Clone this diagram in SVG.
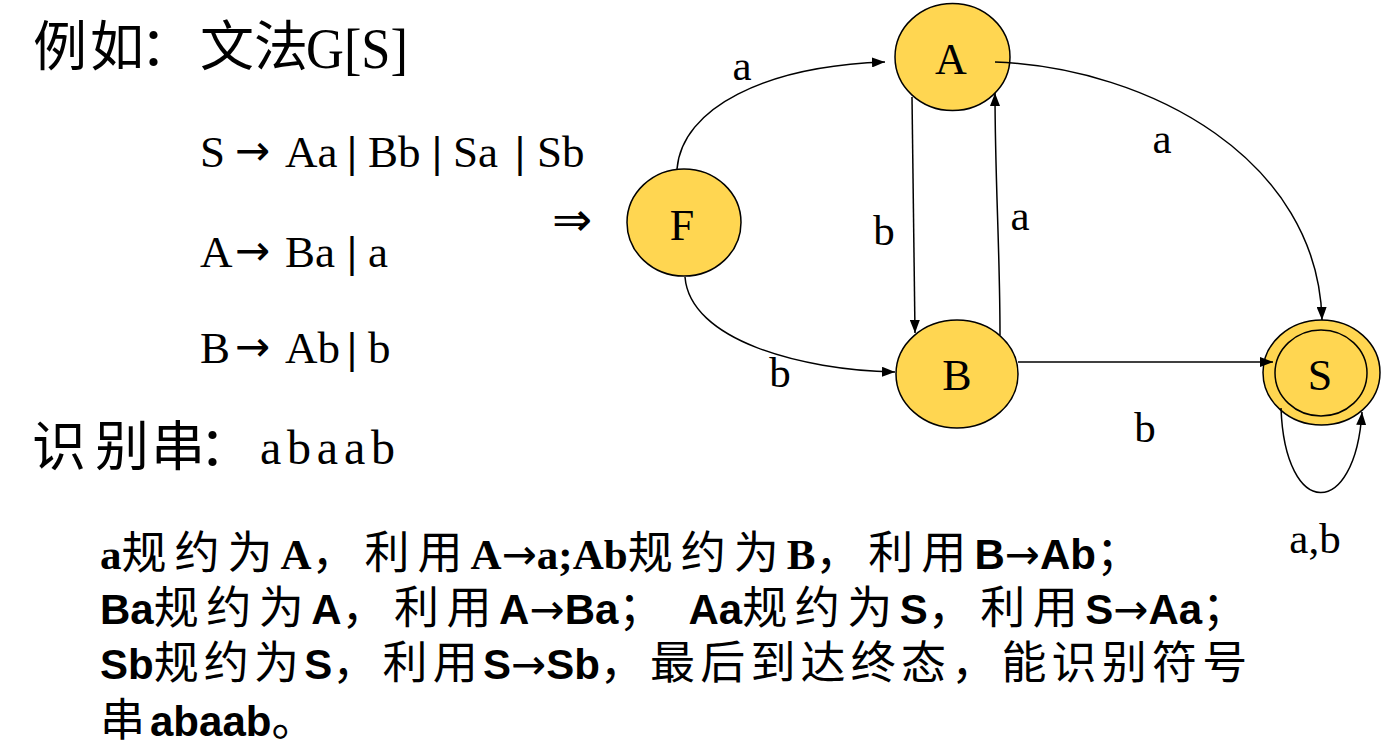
<svg xmlns="http://www.w3.org/2000/svg" width="1395" height="750" viewBox="0 0 1395 750">
  <defs>
    <marker id="arr" markerWidth="13" markerHeight="10" refX="13" refY="5" orient="auto" markerUnits="userSpaceOnUse">
      <path d="M0,0 L13,5 L0,10 z" fill="#000"/>
    </marker>
    <style>
      .cjk { font-family: "Noto Sans CJK SC", sans-serif; fill: #000; }
      .ser { font-family: "Liberation Serif", "DejaVu Serif", serif; fill: #000; }
      .arw { font-family: "DejaVu Sans", sans-serif; font-size: 42px; }
      .bar { font-weight: bold; }
      .node ellipse { fill: #FFD651; stroke: #000; stroke-width: 1.5; }
      .nlabel { font-family: "Liberation Serif", serif; font-size: 44px; text-anchor: middle; fill: #000; }
      .elabel { font-family: "Liberation Serif", serif; font-size: 43px; text-anchor: middle; fill: #000; }
      .edge { fill: none; stroke: #000; stroke-width: 1.5; marker-end: url(#arr); }
      .bt { font-family: "Noto Sans CJK SC", sans-serif; font-size: 45px; fill: #000; }
      .bs { font-family: "Liberation Sans", Arial, sans-serif; font-weight: bold; font-size: 42px; letter-spacing: 0; }
      .bf { font-family: "Liberation Serif", serif; font-weight: bold; font-size: 43px; letter-spacing: 0; }
      .ba { font-family: "DejaVu Sans", sans-serif; font-size: 42px; letter-spacing: 0; }
    </style>
  </defs>
  <rect width="1395" height="750" fill="#fff"/>

  <!-- Grammar text -->
  <g id="title">
    <text class="cjk" x="33" y="66" font-size="54" dx="0 3 -4 6 0">例如：文法</text>
    <text class="ser" x="306" y="68" font-size="56" textLength="102" lengthAdjust="spacingAndGlyphs">G[S]</text>
  </g>
  <g id="rules">
    <text class="ser" y="167" font-size="45"><tspan x="200">S</tspan><tspan class="arw" x="235" dy="-2">→</tspan><tspan x="285" dy="2">Aa</tspan><tspan class="bar" x="347">|</tspan><tspan x="368">Bb</tspan><tspan class="bar" x="432">|</tspan><tspan x="453">Sa</tspan><tspan class="bar" x="515">|</tspan><tspan x="537">Sb</tspan></text>
    <text class="ser" y="267" font-size="45"><tspan x="200">A</tspan><tspan class="arw" x="235" dy="-2">→</tspan><tspan x="285" dy="2">Ba</tspan><tspan class="bar" x="347">|</tspan><tspan x="368">a</tspan></text>
    <text class="ser" y="363" font-size="45"><tspan x="200">B</tspan><tspan class="arw" x="235" dy="-2">→</tspan><tspan x="285" dy="2">Ab</tspan><tspan class="bar" x="347">|</tspan><tspan x="368">b</tspan></text>
    <text x="572" y="236" font-family="DejaVu Sans, sans-serif" font-size="48" text-anchor="middle">⇒</text>
  </g>
  <g id="input">
    <text class="cjk" x="32" y="466" font-size="54" dx="0 9 2 -6">识别串：</text>
    <text class="ser" x="260" y="464" font-size="48" textLength="135" lengthAdjust="spacing">abaab</text>
  </g>

  <!-- Nodes -->
  <g id="node-A" class="node">
    <ellipse cx="952.5" cy="57" rx="57.5" ry="53.5"/>
    <text class="nlabel" x="951" y="74">A</text>
  </g>
  <g id="node-F" class="node">
    <ellipse cx="684" cy="222.5" rx="57" ry="53.5"/>
    <text class="nlabel" x="682" y="240">F</text>
  </g>
  <g id="node-B" class="node">
    <ellipse cx="957" cy="374" rx="61" ry="54"/>
    <text class="nlabel" x="957" y="390">B</text>
  </g>
  <g id="node-S" class="node">
    <ellipse cx="1321.5" cy="372.5" rx="58.5" ry="52.5"/>
    <ellipse cx="1321" cy="373" rx="46" ry="43"/>
    <text class="nlabel" x="1320" y="390">S</text>
  </g>

  <!-- Connectors -->
  <g id="connectors">
    <path class="edge" d="M677,169 C682,108 765,66 885,62"/>
    <path class="edge" d="M685,277 C690,340 800,370 895,372"/>
    <path class="edge" d="M912,97 L915,333"/>
    <path class="edge" d="M1000,335 C1000,250 995,180 995,93"/>
    <path class="edge" d="M995,62 C1150,68 1318,160 1322,320"/>
    <path class="edge" d="M1018,362 L1273,362"/>
    <path class="edge" d="M1281,408 C1285,520 1355,520 1362,412"/>
  </g>

  <!-- Edge labels -->
  <g id="edge-labels">
    <text class="elabel" x="742" y="80">a</text>
    <text class="elabel" x="780" y="387">b</text>
    <text class="elabel" x="884" y="245">b</text>
    <text class="elabel" x="1020" y="230">a</text>
    <text class="elabel" x="1162" y="153">a</text>
    <text class="elabel" x="1145" y="442">b</text>
    <text class="elabel" x="1315" y="553">a,b</text>
  </g>

  <!-- Explanation text -->
  <g id="explanation">
    <text class="bt" x="100" y="569" letter-spacing="8"><tspan class="bf">a</tspan>规约为<tspan class="bf">A</tspan>，利用<tspan class="bf">A</tspan><tspan class="ba">→</tspan><tspan class="bf">a;Ab</tspan>规约为<tspan class="bf">B</tspan>，利用<tspan class="bs">B</tspan><tspan class="ba">→</tspan><tspan class="bs">Ab</tspan>；</text>
    <text class="bt" x="100" y="624" letter-spacing="7.5"><tspan class="bs">Ba</tspan>规约为<tspan class="bs">A</tspan>，利用<tspan class="bs">A</tspan><tspan class="ba">→</tspan><tspan class="bs">Ba</tspan>； <tspan class="bs">Aa</tspan>规约为<tspan class="bs">S</tspan>，利用<tspan class="bs">S</tspan><tspan class="ba">→</tspan><tspan class="bs">Aa</tspan>；</text>
    <text class="bt" x="100" y="679" letter-spacing="5.2"><tspan class="bs">Sb</tspan>规约为<tspan class="bs">S</tspan>，利用<tspan class="bs">S</tspan><tspan class="ba">→</tspan><tspan class="bs">Sb</tspan>，最后到达终态，能识别符号</text>
    <text class="bt" x="100" y="736" letter-spacing="5">串<tspan class="bs">abaab</tspan>。</text>
  </g>
</svg>
